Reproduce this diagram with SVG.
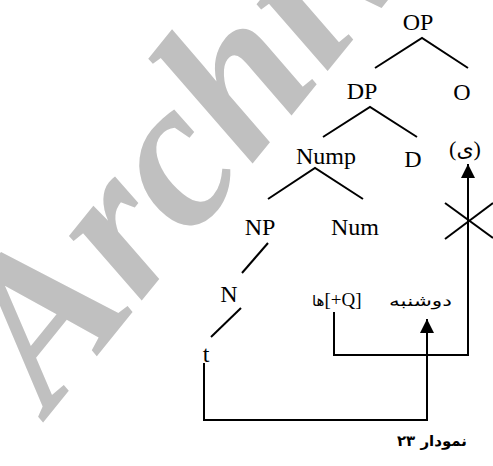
<svg xmlns="http://www.w3.org/2000/svg" width="493" height="466" viewBox="0 0 493 466">
<style>
.lbl{font-family:"Liberation Serif","DejaVu Sans",serif;font-size:24px;fill:#000;text-anchor:middle}
.ar{font-family:"DejaVu Sans","Liberation Sans",sans-serif;font-size:15px;fill:#000}
.edge{stroke:#000;stroke-width:2;fill:none;stroke-linecap:butt}
.wm{font-family:"Liberation Serif",serif;font-style:italic;font-weight:bold;font-size:212px;fill:#c0c0c0}
</style>
<defs>
<marker id="ah" markerUnits="userSpaceOnUse" markerWidth="16" markerHeight="16" viewBox="0 0 16 16" refX="14" refY="8" orient="auto">
<path d="M0,1 L14,8 L0,15 Z" fill="#000"/>
</marker>
</defs>
<rect width="493" height="466" fill="#fff"/>
<g id="watermark">
<text class="wm" transform="translate(50,414) rotate(-51)">Archive</text>
</g>
<g id="connectors">
<polyline class="edge" points="375,68 422,38 468,68"/>
<polyline class="edge" points="323,137 370,107 417,137"/>
<polyline class="edge" points="268,199 315,168 363,199"/>
<line class="edge" x1="268" y1="243" x2="242" y2="273"/>
<line class="edge" x1="241" y1="308" x2="211" y2="337"/>
<polyline class="edge" points="204,363 204,420 427,420 427,319" marker-end="url(#ah)"/>
<polyline class="edge" points="334,312 334,355 468,355 468,164" marker-end="url(#ah)"/>
<line class="edge" x1="445" y1="203" x2="493" y2="238"/>
<line class="edge" x1="445" y1="239" x2="493" y2="203"/>
</g>
<g id="n-OP"><text class="lbl" x="418" y="29.5">OP</text></g>
<g id="n-DP"><text class="lbl" x="362" y="99">DP</text></g>
<g id="n-O"><text class="lbl" x="462" y="100">O</text></g>
<g id="n-Nump"><text class="lbl" x="326" y="164">Nump</text></g>
<g id="n-D"><text class="lbl" x="413" y="167">D</text></g>
<g id="n-y"><text class="lbl" x="465" y="156" style="font-size:22px" direction="ltr">(ی)</text></g>
<g id="n-NP"><text class="lbl" x="260" y="235">NP</text></g>
<g id="n-Num"><text class="lbl" x="355" y="235">Num</text></g>
<g id="n-N"><text class="lbl" x="229" y="302">N</text></g>
<g id="n-t"><text class="lbl" x="206" y="362">t</text></g>
<g id="n-ha"><text x="312" y="306" direction="ltr"><tspan class="ar">ها</tspan><tspan style="font-family:'Liberation Serif',serif;font-size:19px">[+Q]</tspan></text></g>
<g id="n-doshanbe"><text class="ar" x="389" y="306" direction="rtl" style="text-anchor:end" textLength="63" lengthAdjust="spacingAndGlyphs">دوشنبه</text></g>
<g id="caption"><text class="ar" x="467" y="446" direction="rtl" style="font-weight:bold;font-size:15px">نمودار ۲۳</text></g>
</svg>
